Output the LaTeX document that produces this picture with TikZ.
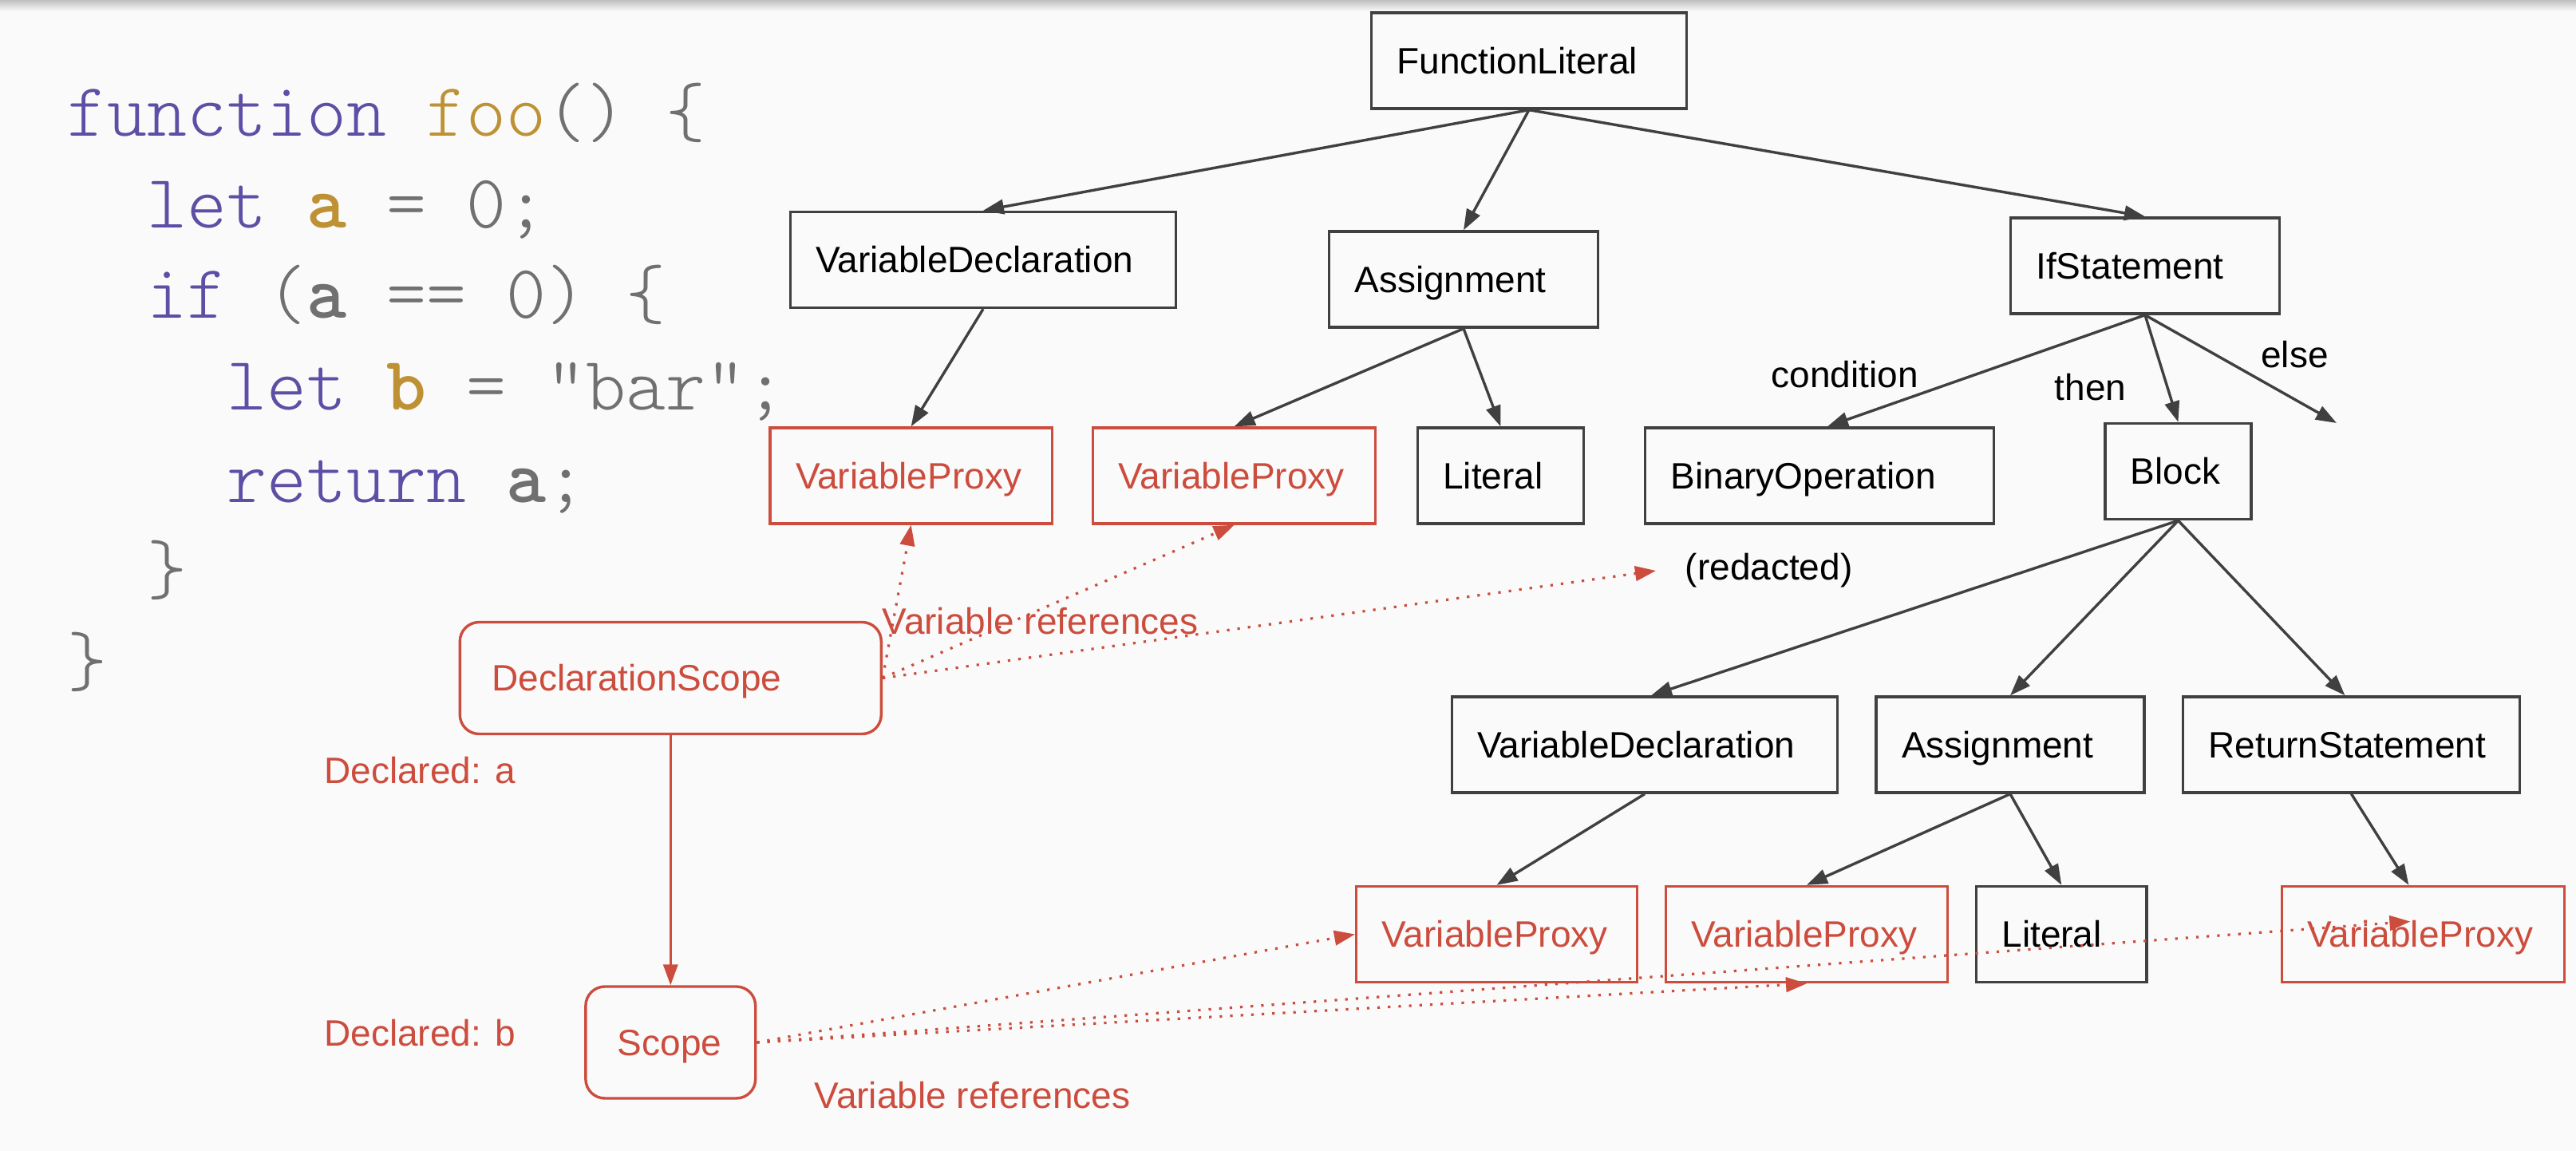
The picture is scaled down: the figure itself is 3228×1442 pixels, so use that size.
\documentclass[tikz,border=0pt]{standalone}
\usepackage{fontspec}
\setmainfont{Liberation Sans}
\newfontfamily\codefont{lmmonolt10-regular.otf}[BoldFont=lmmonolt10-bold.otf]
\usetikzlibrary{arrows.meta,positioning}
\definecolor{pagebg}{RGB}{250,250,250}
\definecolor{edgegray}{RGB}{64,64,64}
\definecolor{refred}{RGB}{204,76,61}
\definecolor{kwpurple}{RGB}{94,78,166}
\definecolor{fngold}{RGB}{189,145,52}
\definecolor{pngray}{RGB}{112,112,112}
\newcommand{\codekw}[1]{\textcolor{kwpurple}{#1}}
\newcommand{\codefn}[1]{\textcolor{fngold}{#1}}
\newcommand{\codepn}[1]{\textcolor{pngray}{#1}}
\newcommand{\codedecl}[1]{\textcolor{fngold}{\bfseries #1}}
\newcommand{\codeuse}[1]{\textcolor{pngray}{\bfseries #1}}
\tikzset{
  astnode/.style={rectangle,draw=edgegray,line width=0.85pt,align=left,
    inner xsep=8pt,inner ysep=0pt,minimum height=30pt,
    text height=8.25pt,text depth=0pt,font=\fontsize{11.5}{13}\selectfont},
  proxy/.style={astnode,draw=refred,text=refred},
  scopebox/.style={astnode,draw=refred,text=refred,rounded corners=6pt,
    minimum height=35pt,inner xsep=10pt},
  child/.style={-{Triangle[length=6.5pt,width=4.6pt]},draw=edgegray,line width=0.85pt},
  varref/.style={-{Triangle[length=6.5pt,width=4.6pt]},draw=refred,line width=0.8pt,
    dash pattern=on 0.8pt off 2.5pt},
  declares/.style={-{Triangle[length=6.5pt,width=4.6pt]},draw=refred,line width=0.6pt},
  lbl/.style={inner sep=0pt,font=\fontsize{11.5}{13}\selectfont},
  redlbl/.style={lbl,text=refred},
  codeline/.style={inner sep=0pt,anchor=base west,
    font=\fontsize{23.8}{28}\codefont}
}
\begin{document}
\begin{tikzpicture}[x=0.25pt,y=-0.25pt]
  \useasboundingbox (0,0) rectangle (3228,1442);
  \fill[pagebg] (0,0) rectangle (3228,1442);
  \shade[top color=black!25,bottom color=pagebg] (0,0) rectangle (3228,14);

  % source code
  \node[codeline] (c1) at (84,170.5) {\codekw{function} \codefn{foo}\codepn{() \{}};
  \node[codeline] (c2) at (184,285.3) {\codekw{let} \codedecl{a} \codepn{= 0;}};
  \node[codeline] (c3) at (184,399) {\codekw{if} \codepn{(}\codeuse{a} \codepn{== 0) \{}};
  \node[codeline] (c4) at (284,513.8) {\codekw{let} \codedecl{b} \codepn{= “bar”;}};
  \node[codeline] (c5) at (284,629.7) {\codekw{return} \codeuse{a}\codepn{;}};
  \node[codeline] (c6) at (184,744) {\codepn{\}}};
  \node[codeline] (c7) at (84,859) {\codepn{\}}};

  % syntax tree
  \node[astnode,text width=82.8pt] (fl) at (1916,76) {FunctionLiteral};
  \node[astnode,text width=104.8pt] (vd1) at (1232,325.5) {VariableDeclaration};
  \node[astnode,text width=68.3pt] (as1) at (1834,350) {Assignment};
  \node[astnode,text width=68.3pt] (ifs) at (2688,333) {IfStatement};
  \node[proxy,text width=72.3pt] (vp1) at (1141.7,596) {VariableProxy};
  \node[proxy,text width=72.5pt] (vp2) at (1546.7,596) {VariableProxy};
  \node[astnode,text width=36pt] (lit1) at (1880.4,596) {Literal};
  \node[astnode,text width=93.2pt] (bin) at (2280,596) {BinaryOperation};
  \node[astnode,text width=29.8pt] (blk) at (2729.5,590.5) {Block};
  \node[astnode,text width=104.8pt] (vd2) at (2061,933) {VariableDeclaration};
  \node[astnode,text width=68pt] (as2) at (2519,933) {Assignment};
  \node[astnode,text width=89.5pt] (ret) at (2946.5,933) {ReturnStatement};
  \node[proxy,text width=71.9pt] (vp3) at (1875.5,1170.5) {VariableProxy};
  \node[proxy,text width=72.3pt] (vp4) at (2264,1170.5) {VariableProxy};
  \node[astnode,text width=37.4pt] (lit2) at (2583.3,1170.5) {Literal};
  \node[proxy,text width=72.5pt] (vp5) at (3036.4,1170.5) {VariableProxy};
  \coordinate (elsept) at (2928,530);

  \node[lbl,anchor=base west] (lcond) at (2219,486) {condition};
  \node[lbl,anchor=base west] (lthen) at (2574,501.7) {then};
  \node[lbl,anchor=base west] (lelse) at (2832.5,461) {else};
  \node[lbl,anchor=west] (rd) at (2111,715) {(redacted)};

  \draw[child] (fl.south) -- (vd1.north);
  \draw[child] (fl.south) -- (as1.north);
  \draw[child] (fl.south) -- (ifs.north);
  \draw[child] (vd1.south) -- (vp1.north);
  \draw[child] (as1.south) -- (vp2.north);
  \draw[child] (as1.south) -- (lit1.north);
  \draw[child] (ifs.south) -- ([xshift=2.5pt]bin.north);
  \draw[child] (ifs.south) -- (blk.north);
  \draw[child] (ifs.south) -- (elsept);
  \draw[child] (blk.south) -- ([xshift=2pt]vd2.north);
  \draw[child] (blk.south) -- (as2.north);
  \draw[child] (blk.south) -- ([xshift=-2pt]ret.north);
  \draw[child] (vd2.south) -- (vp3.north);
  \draw[child] (as2.south) -- (vp4.north);
  \draw[child] (as2.south) -- (lit2.north);
  \draw[child] (ret.south) -- ([xshift=-4.5pt]vp5.north);

  % scopes
  \node[scopebox,text width=112pt] (ds) at (840.3,849.5) {DeclarationScope};
  \node[scopebox,text width=33.2pt] (sc) at (840.3,1306) {Scope};
  \node[redlbl,anchor=base west] (decla) at (405.5,982) {Declared: a};
  \node[redlbl,anchor=base west] (declb) at (405.5,1310.5) {Declared: b};
  \node[redlbl,anchor=base west] (refsa) at (1105,795) {Variable references};
  \node[redlbl,anchor=base west] (refsb) at (1020,1389) {Variable references};

  \draw[declares] (ds.south) -- (sc.north);
  \draw[varref] (ds.east) -- (vp1.south);
  \draw[varref] (ds.east) -- (vp2.south);
  \draw[varref] (ds.east) -- ([xshift=-9pt]rd.west);
  \draw[varref] (sc.east) -- (vp3.west);
  \draw[varref] (sc.east) -- (vp4.south);
  \draw[varref] (sc.east) -- ([xshift=-4pt,yshift=4pt]vp5.center);
\end{tikzpicture}
\end{document}
